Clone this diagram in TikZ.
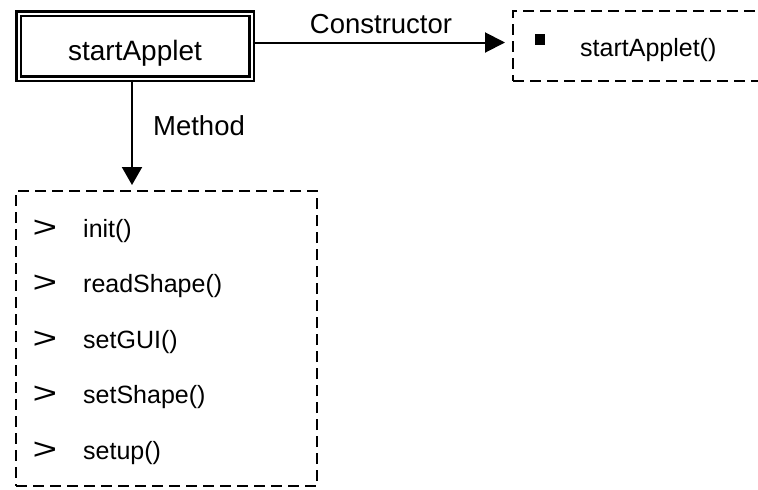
\documentclass[tikz,border=0pt]{standalone}
\usepackage{fontspec}
\setmainfont{Liberation Sans}
\usetikzlibrary{arrows.meta}

\begin{document}
\begin{tikzpicture}[x=1pt,y=-1pt,
  classbox/.style={draw, double, line width=2.5pt, double distance=2pt,
    inner sep=0pt, minimum width=233pt, minimum height=65pt,
    text height=28pt, text depth=0pt,
    font=\fontsize{28}{33}\selectfont},
  groupbox/.style={draw, line width=2pt, dash pattern=on 11pt off 6pt,
    inner sep=0pt},
  conn/.style={line width=2pt, -{Triangle[length=20pt,width=20pt]}},
  lbl/.style={anchor=base, inner sep=0pt, font=\fontsize{27.5}{33}\selectfont},
  item/.style={anchor=base west, inner sep=0pt, font=\fontsize{25}{30}\selectfont},
  chev/.style={anchor=base, inner sep=0pt, font=\fontsize{30}{34}\selectfont},
  bullet/.style={fill, inner sep=0pt, minimum width=10pt, minimum height=11pt}
]
\useasboundingbox (0,0) rectangle (758,490);
\clip (0,0) rectangle (758,490);

% the class
\node[classbox] (sa) at (135,46) {startApplet};

% constructor group (runs off the right edge)
\node[groupbox, minimum width=290pt, minimum height=70pt] (ctor) at (658,46) {};
\node[bullet] (b0) at (540,39) {};
\node[item] (c0) at (580,56) {startApplet()};

% method group
\node[groupbox, minimum width=301pt, minimum height=295pt] (mb) at (166.5,338.5) {};

\foreach \t [count=\i from 0] in {init(), readShape(), setGUI(), setShape(), setup()} {
  \node[chev] (g\i) at (45,{237+55.5*\i}) {\scalebox{1.4}[1]{>}};
  \node[item] (m\i) at (83,{237+55.5*\i}) {\t};
}

% connectors
\draw[conn, shorten >=7pt] ([yshift=3.5pt]sa.east) -- ([yshift=3.5pt]sa.east -| ctor.west);
\node[lbl] (lc) at (381,33) {Constructor};

\draw[line width=2pt, -{Triangle[length=18pt,width=20pt]}, shorten >=5pt]
  ([xshift=-3pt]sa.south) -- ([xshift=-3pt]sa.south |- mb.north);
\node[lbl] (lm) at (199,135) {Method};
\end{tikzpicture}
\end{document}
